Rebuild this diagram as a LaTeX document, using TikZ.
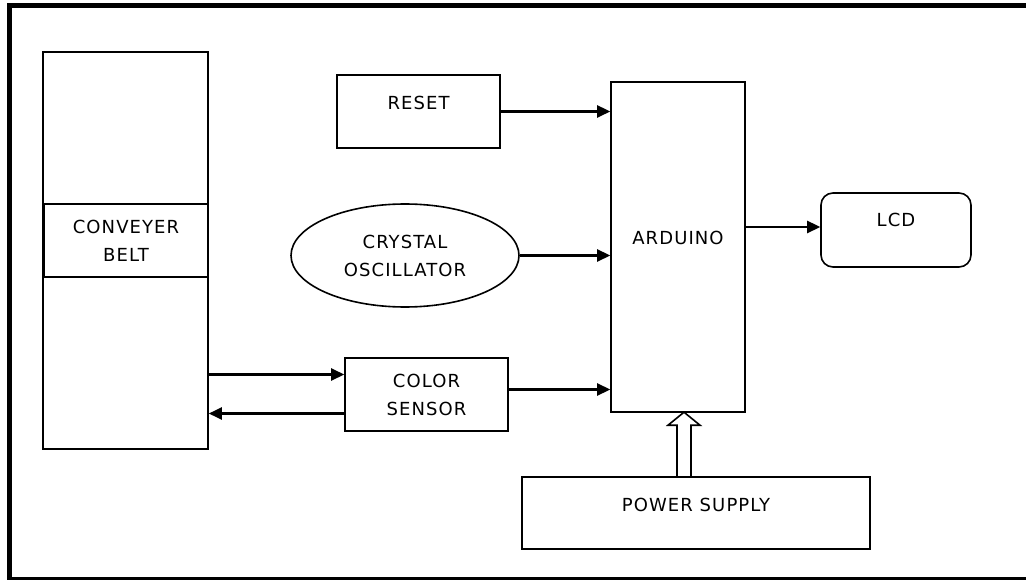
\documentclass[tikz,border=0pt]{standalone}
\usepackage{fontspec}
\usepackage{tikz}
\usetikzlibrary{shapes.geometric,arrows.meta}
\newfontfamily\blkfont[LetterSpace=6]{DejaVu Sans}

\begin{document}
\begin{tikzpicture}[x=1pt,y=-1pt,
	box/.style={draw,line width=1.6pt,inner sep=0pt},
	txt/.style={font=\blkfont\fontsize{18}{28}\selectfont,align=center},
	arr/.style={line width=2.6pt,-{Triangle[length=13pt,width=12pt]}}]
	\useasboundingbox (0,0) rectangle (1026,580);
	% frame
	\draw[line width=5pt] (1026,5.5) -- (9.5,5.5) -- (9.5,579) -- (1026,579);

	\node[box,minimum width=165pt,minimum height=397pt] at (125.5,250.5) (belt) {};
	\node[box,txt,minimum width=164pt,minimum height=73pt] at (126,240.5) (bt) {CONVEYER\\BELT};
	\node[box,minimum width=163pt,minimum height=73pt,
		label={[txt,name=rst-t,yshift=8.5pt]center:RESET}] at (418.5,111.5) (rst) {};
	\node[box,txt,ellipse,minimum width=228pt,minimum height=103pt] at (405,255.5) (osc) {CRYSTAL\\OSCILLATOR};
	\node[box,txt,minimum width=163pt,minimum height=73pt] at (426.5,394.5) (sen) {COLOR\\SENSOR};
	\node[box,minimum width=134pt,minimum height=330pt,
		label={[txt,name=ard-t,yshift=9pt]center:ARDUINO}] at (678,247) (ard) {};
	\node[box,rounded corners=12pt,minimum width=150pt,minimum height=74pt,
		label={[txt,name=lcd-t,yshift=10pt]center:LCD}] at (896,230) (lcd) {};
	\node[box,minimum width=348pt,minimum height=72pt,
		label={[txt,name=ps-t,yshift=8pt]center:POWER SUPPLY}] at (696,513) (ps) {};

	\draw[arr] (rst.east) -- (rst.east -| ard.west);
	\draw[arr] (osc.east) -- (osc.east -| ard.west);
	\draw[arr] ([yshift=5pt]sen.east) -- ([yshift=5pt]sen.east -| ard.west);
	\draw[arr] ([yshift=3pt]lcd.west -| ard.east) -- ([yshift=3pt]lcd.west);
	\draw[arr] ([yshift=20pt]sen.west -| belt.east) -- ([yshift=20pt]sen.west);
	\draw[arr] ([yshift=-19pt]sen.west) -- ([yshift=-19pt]sen.west -| belt.east);
	% hollow arrow for supply
	\draw[line width=1.6pt,line join=miter] ([xshift=-19pt]ps.north) -- ++(0,-51) -- ++(-9,0)
		-- ++(16,-13) -- ++(16,13) -- ++(-9,0) -- ++(0,51);
\end{tikzpicture}
\end{document}
